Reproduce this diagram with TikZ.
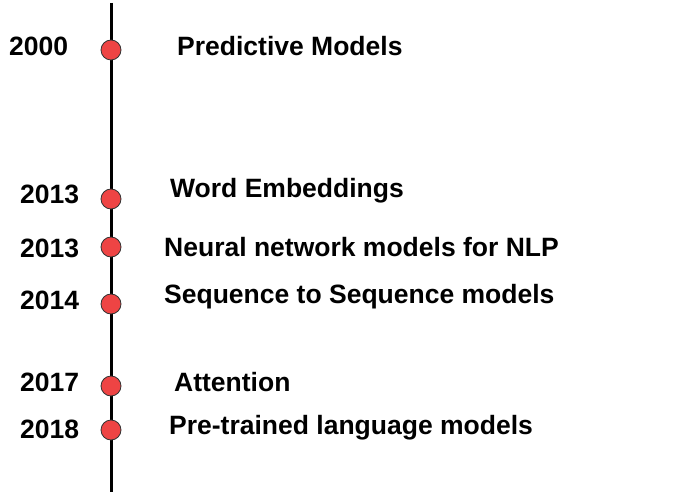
\documentclass[tikz,border=0pt]{standalone}
\usepackage{fontspec}
\setmainfont{Liberation Sans}
\begin{document}
\begin{tikzpicture}[x=1pt,y=-1pt,
  lbl/.style={anchor=base west,inner sep=0pt,font=\fontsize{26.5}{30}\selectfont\bfseries},
  dot/.style={circle,draw=black!80,line width=0.8pt,fill=dotred,minimum size=20pt,inner sep=0pt}]
\definecolor{dotred}{HTML}{EE4444}
\useasboundingbox (0,0) rectangle (682,494);
\coordinate (top) at (111,3);
\coordinate (bot) at (111,492);
\draw[line width=3pt] (top) -- (bot);
\node[dot] (d1) at (111,50) {};
\node[dot] (d2) at (111,199) {};
\node[dot] (d3) at (111,247) {};
\node[dot] (d4) at (111,304) {};
\node[dot] (d5) at (111,386) {};
\node[dot] (d6) at (111,430) {};
\node[lbl] (y1) at (9,56) {2000};
\node[lbl] (y2) at (20,204) {2013};
\node[lbl] (y3) at (20,258) {2013};
\node[lbl] (y4) at (20,309) {2014};
\node[lbl] (y5) at (20,391) {2017};
\node[lbl] (y6) at (20,438) {2018};
\node[lbl] (t1) at (177,56) {Predictive Models};
\node[lbl] (t2) at (170,198) {Word Embeddings};
\node[lbl] (t3) at (164,257) {Neural network models for NLP};
\node[lbl] (t4) at (164,303) {Sequence to Sequence models};
\node[lbl] (t5) at (174,391) {Attention};
\node[lbl] (t6) at (169,434) {Pre-trained language models};
\end{tikzpicture}
\end{document}
